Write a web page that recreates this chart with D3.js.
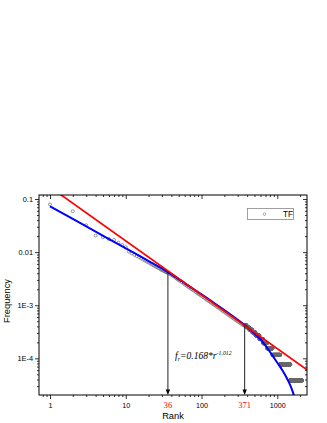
<!DOCTYPE html>
<html>
<head>
<meta charset="utf-8">
<script src="https://cdn.jsdelivr.net/npm/d3@7"></script>
<style>
  body { margin: 0; background: #fff; }
  text { font-family: "Liberation Sans", Arial, sans-serif; }
</style>
</head>
<body>
<script>
// ---- data ----
const headRanks = d3.range(1, 37);
const headFreq = [0.079, 0.059, 0.032, 0.0204, 0.0190, 0.0176, 0.0170, 0.0150, 0.0136, 0.0124,
  0.0102, 0.0095, 0.0089, 0.0084, 0.0080, 0.0076, 0.0072, 0.0069, 0.0066, 0.0064,
  0.0061, 0.0059, 0.0057, 0.0055, 0.0053, 0.0052, 0.0050, 0.0049, 0.0047, 0.0046,
  0.0045, 0.0044, 0.0043, 0.0042, 0.0041, 0.0041];

const midRanks = [38, 40, 42, 44, 46, 48, 50, 52, 55, 58, 61, 64, 67, 70, 73, 76, 80, 84, 88, 92,
  96, 100, 105, 110, 115, 120, 126, 132, 138, 144, 150, 157, 164, 172, 180, 188, 196, 205, 214,
  224, 234, 245, 256, 268, 280, 292, 305, 318, 332, 346, 360];
const midFreq = [0.00388, 0.00371, 0.00353, 0.00340, 0.00323, 0.00309, 0.00296, 0.00287, 0.00270,
  0.00257, 0.00242, 0.00232, 0.00221, 0.00214, 0.00203, 0.00195, 0.00186, 0.00177, 0.00169,
  0.00162, 0.00156, 0.00149, 0.00142, 0.00136, 0.00129, 0.00124, 0.00119, 0.00113, 0.00108,
  0.00104, 0.00100, 0.00095, 0.00091, 0.000867, 0.000829, 0.000793, 0.000760, 0.000728,
  0.000696, 0.000665, 0.000637, 0.000608, 0.000581, 0.000556, 0.000532, 0.000511, 0.000489,
  0.000469, 0.000449, 0.000431, 0.000415];

// tail: runs of equal frequency (rank from..to)
const tailFrom = [368, 393, 426, 467, 516, 581, 651, 735, 865, 1093, 1481];
const tailTo = [392, 425, 466, 515, 580, 650, 734, 864, 1092, 1480, 2113];
const tailFreq = [4.24e-4, 3.85e-4, 3.47e-4, 3.08e-4, 2.70e-4, 2.31e-4, 1.93e-4, 1.54e-4,
  1.16e-4, 7.7e-5, 3.85e-5];

const blueRanks = [1, 2, 4, 7, 10, 15, 20, 28, 36, 50, 70, 100, 150, 200, 260, 320, 371,
  466, 594, 729, 857, 997, 1161, 1312, 1481, 1622, 1722];
const blueFreq = [0.0728, 0.0421, 0.0244, 0.0156, 0.0118, 0.0086, 0.0068, 0.0052, 0.00415,
  0.00310, 0.00224, 0.00160, 0.00108, 0.00081, 0.00062, 0.000500, 0.000425,
  3.21e-4, 2.31e-4, 1.60e-4, 1.15e-4, 8.33e-5, 6.01e-5, 4.44e-5, 3.13e-5, 2.21e-5, 1.63e-5];

const redRanks = [1, 2467];
const redFreq = [0.168, 6.1e-5];

const markRanks = [36, 371];
const markFreq = [0.0042, 0.00043];

const xTickValues = [1, 10, 100, 1000];
const xTickLabels = ["1", "10", "100", "1000"];
const yTickValues = [0.1, 0.01, 0.001, 0.0001];
const yTickLabels = ["0.1", "0.01", "1E-3", "1E-4"];

// ---- layout ----
const width = 327, height = 423;
const pLeft = 39, pRight = 307, pTop = 195, pBottom = 395;

const x = d3.scaleLog().domain([0.7155, 2467]).range([pLeft, pRight]);
const y = d3.scaleLog().domain([2.04e-5, 0.119]).range([pBottom, pTop]);

const svg = d3.select("body").append("svg")
  .attr("width", width).attr("height", height);

svg.append("clipPath").attr("id", "plot")
  .append("rect").attr("x", pLeft).attr("y", pTop)
  .attr("width", pRight - pLeft).attr("height", pBottom - pTop);

const isMajor = (t) => Math.abs(Math.log10(t) - Math.round(Math.log10(t))) < 1e-9;
const xMinor = x.ticks().filter((t) => !isMajor(t));
const yMinor = y.ticks().filter((t) => !isMajor(t));

// axes: outward on bottom/left, inward on top/right
const axisStyle = (g) => {
  g.select(".domain").remove();
  g.selectAll(".tick line").attr("stroke", "#000").attr("stroke-width", 0.8);
};

svg.append("g").attr("transform", `translate(0,${pBottom})`)
  .call(d3.axisBottom(x).tickValues(xTickValues).tickSize(4).tickPadding(3.5)
    .tickFormat((d, i) => xTickLabels[i]))
  .call(axisStyle)
  .selectAll("text").attr("font-size", 7.2).attr("fill", "#000")
  .style("font-family", "'Liberation Sans', Arial, sans-serif");
svg.append("g").attr("transform", `translate(0,${pBottom})`)
  .call(d3.axisBottom(x).tickValues(xMinor).tickSize(2).tickFormat(""))
  .call(axisStyle);

svg.append("g").attr("transform", `translate(0,${pTop})`)
  .call(d3.axisBottom(x).tickValues(xTickValues).tickSize(4).tickFormat(""))
  .call(axisStyle);
svg.append("g").attr("transform", `translate(0,${pTop})`)
  .call(d3.axisBottom(x).tickValues(xMinor).tickSize(2).tickFormat(""))
  .call(axisStyle);

svg.append("g").attr("transform", `translate(${pLeft},0)`)
  .call(d3.axisLeft(y).tickValues(yTickValues).tickSize(4).tickPadding(2)
    .tickFormat((d, i) => yTickLabels[i]))
  .call(axisStyle)
  .selectAll("text").attr("font-size", 7.4).attr("fill", "#000")
  .style("font-family", "'Liberation Sans', Arial, sans-serif");
svg.append("g").attr("transform", `translate(${pLeft},0)`)
  .call(d3.axisLeft(y).tickValues(yMinor).tickSize(2).tickFormat(""))
  .call(axisStyle);

svg.append("g").attr("transform", `translate(${pRight},0)`)
  .call(d3.axisLeft(y).tickValues(yTickValues).tickSize(4).tickFormat(""))
  .call(axisStyle);
svg.append("g").attr("transform", `translate(${pRight},0)`)
  .call(d3.axisLeft(y).tickValues(yMinor).tickSize(2).tickFormat(""))
  .call(axisStyle);

// extra red rank labels
svg.selectAll(".mark-label")
  .data(markRanks)
  .enter().append("text")
  .attr("x", (d) => x(d)).attr("y", pBottom + 13)
  .attr("text-anchor", "middle")
  .attr("font-size", 8.6).attr("fill", "#ff0000")
  .style("font-family", "'Liberation Serif', 'Times New Roman', serif")
  .text((d) => d);

// ---- data points ----
const pts = [];
headRanks.forEach((r, i) => pts.push([r, headFreq[i]]));
midRanks.forEach((r, i) => pts.push([r, midFreq[i]]));
tailFrom.forEach((a, i) => {
  d3.range(a, tailTo[i] + 1).forEach((r) => pts.push([r, tailFreq[i]]));
});

const plot = svg.append("g").attr("clip-path", "url(#plot)");

plot.append("g").selectAll("circle")
  .data(pts)
  .enter().append("circle")
  .attr("cx", (d) => x(d[0]))
  .attr("cy", (d) => y(d[1]))
  .attr("r", 1.5)
  .attr("fill", "none")
  .attr("stroke", "#666")
  .attr("stroke-width", 0.65);

// fit lines
plot.append("path")
  .datum(blueRanks.map((r, i) => [r, blueFreq[i]]))
  .attr("d", d3.line().x((d) => x(d[0])).y((d) => y(d[1])).curve(d3.curveMonotoneX))
  .attr("fill", "none").attr("stroke", "#0000ff").attr("stroke-width", 2);

plot.append("path")
  .datum(redRanks.map((r, i) => [r, redFreq[i]]))
  .attr("d", d3.line().x((d) => x(d[0])).y((d) => y(d[1])))
  .attr("fill", "none").attr("stroke", "#ff0000").attr("stroke-width", 1.7);

// arrows down to the axis
markRanks.forEach((r, i) => {
  const cx = x(r);
  svg.append("line")
    .attr("x1", cx).attr("x2", cx)
    .attr("y1", y(markFreq[i])).attr("y2", pBottom - 4)
    .attr("stroke", "#222").attr("stroke-width", 1);
  svg.append("path")
    .attr("d", `M${cx - 2.2},${pBottom - 5.5}L${cx + 2.2},${pBottom - 5.5}L${cx},${pBottom}Z`)
    .attr("fill", "#000");
});

// frame
svg.append("rect")
  .attr("x", pLeft).attr("y", pTop)
  .attr("width", pRight - pLeft).attr("height", pBottom - pTop)
  .attr("fill", "none").attr("stroke", "#000").attr("stroke-width", 1);

// formula
const formula = svg.append("text")
  .attr("x", 175).attr("y", 358.5)
  .attr("font-size", 9.6)
  .attr("font-style", "italic")
  .style("font-family", "'Liberation Serif', 'Times New Roman', serif")
  .attr("fill", "#000");
formula.append("tspan").text("f");
formula.append("tspan").attr("font-size", 6).attr("dy", 2).text("r");
formula.append("tspan").attr("dy", -2).text("=0.168*r");
formula.append("tspan").attr("font-size", 5.8).attr("dy", -4).text("-1.012");

// legend
svg.append("rect")
  .attr("x", 247.5).attr("y", 208.5).attr("width", 46).attr("height", 11)
  .attr("fill", "#fff").attr("stroke", "#888").attr("stroke-width", 0.8);
svg.append("circle")
  .attr("cx", 264.5).attr("cy", 214.2).attr("r", 1.3)
  .attr("fill", "none").attr("stroke", "#7a7a7a").attr("stroke-width", 0.6);
svg.append("text")
  .attr("x", 283).attr("y", 217.3)
  .attr("font-size", 8.2).attr("fill", "#000")
  .text("TF");

// axis titles
svg.append("text")
  .attr("x", (pLeft + pRight) / 2).attr("y", 419)
  .attr("text-anchor", "middle").attr("font-size", 9.3).attr("fill", "#000")
  .text("Rank");
svg.append("text")
  .attr("transform", "translate(9.5,301) rotate(-90)")
  .attr("text-anchor", "middle").attr("font-size", 9.3).attr("fill", "#000")
  .text("Frequency");
</script>
</body>
</html>
